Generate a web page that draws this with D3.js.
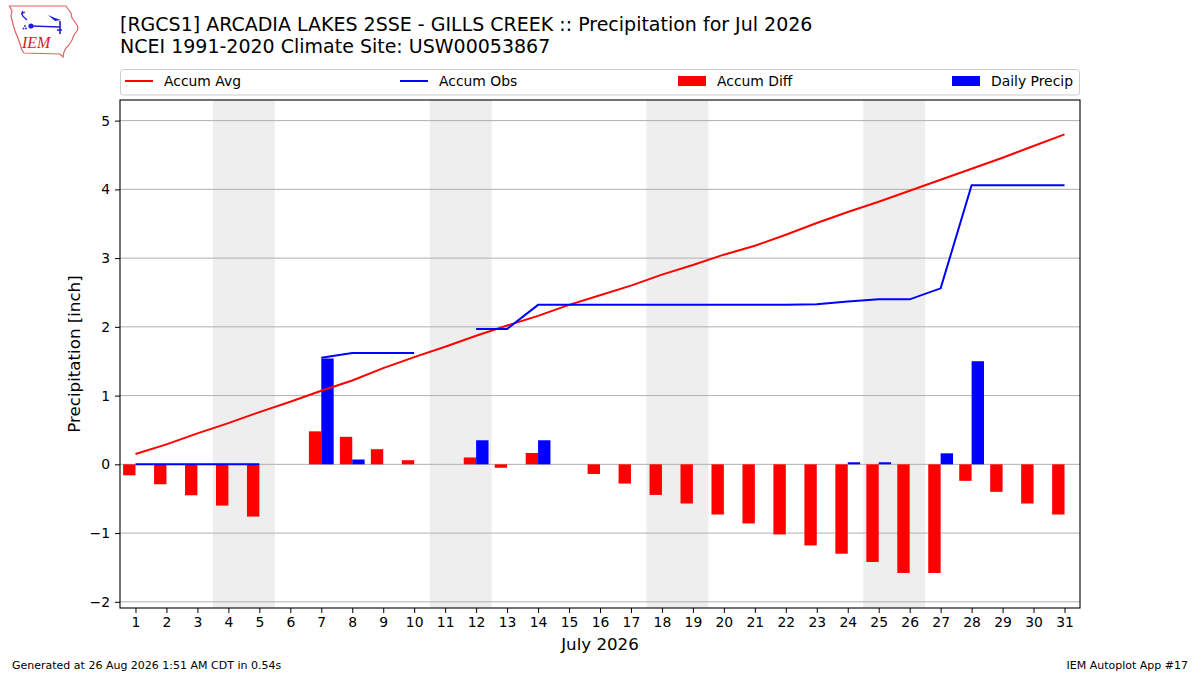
<!DOCTYPE html>
<html><head><meta charset="utf-8">
<script src="https://cdn.jsdelivr.net/npm/d3@7"></script>
<style>body{margin:0;background:#fff}svg{display:block;font-family:"DejaVu Sans",sans-serif}</style>
</head><body><svg id="c" width="1200" height="675"></svg>
<script>
const days = [1,2,3,4,5,6,7,8,9,10,11,12,13,14,15,16,17,18,19,20,21,22,23,24,25,26,27,28,29,30,31];
const accumAvg = [0.15,0.29,0.45,0.60,0.76,0.91,1.07,1.22,1.40,1.56,1.71,1.87,2.02,2.16,2.32,2.46,2.60,2.76,2.90,3.05,3.18,3.34,3.51,3.67,3.82,3.98,4.14,4.30,4.46,4.63,4.80];
const accumObs = [0,0,0,0,0,null,1.55,1.62,1.62,1.62,null,1.97,1.97,2.32,2.32,2.32,2.32,2.32,2.32,2.32,2.32,2.32,2.33,2.37,2.40,2.40,2.56,4.06,4.06,4.06,4.06];
const accumDiff = [-0.16,-0.29,-0.45,-0.60,-0.76,null,0.48,0.40,0.22,0.06,null,0.10,-0.05,0.165,0.0,-0.14,-0.28,-0.445,-0.57,-0.73,-0.86,-1.02,-1.18,-1.30,-1.42,-1.58,-1.58,-0.24,-0.40,-0.57,-0.73];
const dailyPrecip = [0,0,0,0,0,null,1.54,0.07,0,0,null,0.35,0,0.35,0,0,0,0,0,0,0,0,0,0.03,0.03,0,0.16,1.50,0,0,0];
const weekends = [[4,5],[11,12],[18,19],[25,26]];
const yTicks = [-2,-1,0,1,2,3,4,5];
const titleLines = ["[RGCS1] ARCADIA LAKES 2SSE - GILLS CREEK :: Precipitation for Jul 2026","NCEI 1991-2020 Climate Site: USW00053867"];
const legendItems = [
  {label:"Accum Avg", kind:"line", color:"#ff0000"},
  {label:"Accum Obs", kind:"line", color:"#0000ff"},
  {label:"Accum Diff", kind:"rect", color:"#ff0000"},
  {label:"Daily Precip", kind:"rect", color:"#0000ff"}
];

const svg = d3.select("#c");
const L=120,R=1080,T=100,B=608;
const x = d3.scaleLinear().domain([0.5,31.5]).range([L,R]);
const y = d3.scaleLinear().domain([-2.09,5.30]).range([B,T]);
const bw = 0.4;

// weekend shading
svg.append("g").selectAll("rect").data(weekends).join("rect")
  .attr("x",d=>x(d[0]-0.5)).attr("width",d=>x(d[1]+0.5)-x(d[0]-0.5))
  .attr("y",T).attr("height",B-T).attr("fill","#eeeeee");

// grid
svg.append("g").selectAll("line").data(yTicks).join("line")
  .attr("x1",L).attr("x2",R).attr("y1",d=>y(d)).attr("y2",d=>y(d))
  .attr("stroke","#b0b0b0").attr("stroke-width",1);

const data = days.map((d,i)=>({d, avg:accumAvg[i], obs:accumObs[i], diff:accumDiff[i], daily:dailyPrecip[i]}));

// bars
svg.append("g").selectAll("rect").data(data.filter(d=>d.diff!=null)).join("rect")
  .attr("x",d=>x(d.d-bw)).attr("width",d=>x(d.d)-x(d.d-bw))
  .attr("y",d=>y(Math.max(0,d.diff))).attr("height",d=>Math.abs(y(d.diff)-y(0)))
  .attr("fill","#ff0000");
svg.append("g").selectAll("rect").data(data.filter(d=>d.daily!=null)).join("rect")
  .attr("x",d=>x(d.d)).attr("width",d=>x(d.d+bw)-x(d.d))
  .attr("y",d=>y(Math.max(0,d.daily))).attr("height",d=>Math.abs(y(d.daily)-y(0)))
  .attr("fill","#0000ff");

// lines
svg.append("path").datum(data)
  .attr("d",d3.line().x(d=>x(d.d)).y(d=>y(d.avg)))
  .attr("fill","none").attr("stroke","#ff0000").attr("stroke-width",2);
svg.append("path").datum(data)
  .attr("d",d3.line().defined(d=>d.obs!=null).x(d=>x(d.d)).y(d=>y(d.obs)))
  .attr("fill","none").attr("stroke","#0000ff").attr("stroke-width",2);

// frame
svg.append("rect").attr("x",L).attr("y",T).attr("width",R-L).attr("height",B-T)
  .attr("fill","none").attr("stroke","#000").attr("stroke-width",1.1);

// axes
const xAxis = svg.append("g").attr("transform",`translate(0,${B})`)
  .call(d3.axisBottom(x).tickValues(days).tickFormat(d3.format("d")).tickSize(5).tickPadding(4));
const yAxis = svg.append("g").attr("transform",`translate(${L},0)`)
  .call(d3.axisLeft(y).tickValues(yTicks).tickFormat(d=>d<0?"\u2212"+Math.abs(d):String(d)).tickSize(5).tickPadding(5));
[xAxis,yAxis].forEach(g=>{
  g.select(".domain").remove();
  g.selectAll("line").attr("stroke","#000").attr("stroke-width",1);
  g.selectAll("text").attr("font-size","13.9px").attr("fill","#000").attr("font-family","DejaVu Sans");
});

// axis labels
svg.append("text").attr("x",600).attr("y",650).attr("text-anchor","middle")
  .attr("font-size","16.67px").text("July 2026");
svg.append("text").attr("transform","translate(80,354) rotate(-90)").attr("text-anchor","middle")
  .attr("font-size","16.67px").text("Precipitation [inch]");

// title
svg.append("g").selectAll("text").data(titleLines).join("text")
  .attr("x",120).attr("y",(d,i)=>31+i*22).attr("font-size","19px").text(d=>d);

// legend
const lg = svg.append("g");
lg.append("rect").attr("x",120.5).attr("y",69.5).attr("width",959).attr("height",25.5).attr("rx",3)
  .attr("fill","#fff").attr("stroke","#cccccc");
const lx = [125,400,678,952];
legendItems.forEach((it,i)=>{
  if(it.kind==="line"){
    lg.append("line").attr("x1",lx[i]).attr("x2",lx[i]+28).attr("y1",81).attr("y2",81)
      .attr("stroke",it.color).attr("stroke-width",2);
  } else {
    lg.append("rect").attr("x",lx[i]).attr("y",76).attr("width",28).attr("height",10).attr("fill",it.color);
  }
  lg.append("text").attr("x",lx[i]+39).attr("y",86).attr("font-size","13.9px").text(it.label);
});

// footer
svg.append("text").attr("x",12).attr("y",669).attr("font-size","11px").text("Generated at 26 Aug 2026 1:51 AM CDT in 0.54s");
svg.append("text").attr("x",1188).attr("y",669).attr("text-anchor","end").attr("font-size","11px").text("IEM Autoplot App #17");

// logo (approximate IEM Iowa outline)
const logo = svg.append("g");
logo.append("path").attr("d","M9.5,6 L66,6 L68,9 L71,13 L72,18 L75,22 L78,27 L77,31 L74,35 L72,40 L69,45 L66,48 L64,52 L63,57 L60,54 L24,53 L22,50 L20,44 L18,38 L15,31 L13,24 L11,16 L12,11 Z")
  .attr("fill","none").attr("stroke","#e06060").attr("stroke-width",1.2);
const blue = "#2020cc";
logo.append("path").attr("d","M23,11 C21,13 22,16 25,18 L27,20 M21,14 L25,12")
  .attr("fill","none").attr("stroke",blue).attr("stroke-width",1.3);
logo.append("path").attr("d","M31,26 L60,27 M60,21 L60,34 M57,30 L62,30")
  .attr("fill","none").attr("stroke",blue).attr("stroke-width",1.6);
logo.append("path").attr("d","M48,15 L55,18 L61,20 L55,21 Z").attr("fill",blue);
logo.append("circle").attr("cx",31).attr("cy",26).attr("r",2.6).attr("fill",blue);
logo.append("circle").attr("cx",23.5).attr("cy",28.5).attr("r",0.9).attr("fill",blue);
logo.append("circle").attr("cx",26).attr("cy",28.5).attr("r",0.9).attr("fill",blue);
logo.append("circle").attr("cx",25).attr("cy",26).attr("r",0.9).attr("fill",blue);
logo.append("text").attr("x",22).attr("y",48).attr("font-family","Liberation Serif").attr("font-style","italic")
  .attr("font-size","16px").attr("fill","#d82020").text("IEM");
</script></body></html>
